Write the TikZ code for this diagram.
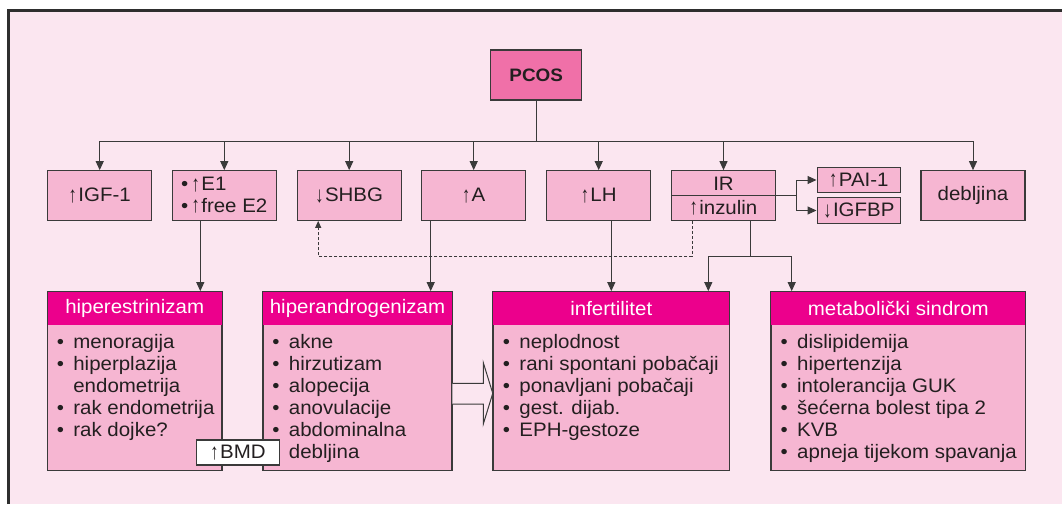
\documentclass[tikz,border=0pt]{standalone}
\usepackage{graphicx}
\usepackage{fontspec}
\setmainfont{Liberation Sans}[FakeStretch=1.05]
\usetikzlibrary{arrows.meta}

\definecolor{pagebg}{HTML}{FBE6F0}
\definecolor{boxfill}{HTML}{F6B6D2}
\definecolor{hdrfill}{HTML}{EC008C}
\definecolor{rootfill}{HTML}{F070A8}
\definecolor{ink}{HTML}{231F20}
\definecolor{edgecol}{HTML}{3A3A3A}

% bullet with fixed hanging indent for list lines
\newcommand\itemdot{\makebox[16.5pt][l]{•}}
\newcommand\itemgap{\hspace*{16.5pt}}
% slender up/down arrows
\newcommand\upar{\raisebox{-0.3pt}{\scalebox{0.8}[1.15]{↑}}\hspace{1.5pt}}
\newcommand\dnar{\raisebox{-1.5pt}{\scalebox{0.8}[1.15]{↓}}\hspace{1.5pt}}

\tikzset{
  txt/.style={font=\fontsize{19.5}{22}\selectfont, text=ink},
  box/.style={txt, draw=edgecol, line width=1.1pt, fill=boxfill, inner sep=0pt},
  smallbox/.style={box, minimum width=104pt, minimum height=49.6pt},
  tinybox/.style={box, minimum width=83.7pt, minimum height=25.2pt},
  bigbox/.style={box, minimum height=178.6pt},
  hdrtext/.style={font=\fontsize{19.5}{22}\selectfont, text=white, inner sep=0pt},
  listtext/.style={txt, align=left, anchor=north west, inner sep=0pt},
  conn/.style={draw=edgecol, line width=1pt},
  arr/.style={conn, -{Triangle[length=9pt,width=8pt]}},
  dasharr/.style={draw=edgecol, line width=0.9pt, dash pattern=on 3pt off 2pt,
                  -{Triangle[length=7pt,width=6pt]}},
}

\begin{document}
\begin{tikzpicture}[x=1pt,y=-1pt]
  \useasboundingbox (0,0) rectangle (1062,504);
  \fill[white] (0,0) rectangle (1062,504);
  \fill[pagebg] (8.5,10.7) rectangle (1062,504);
  \draw[edgecol!80!black, line width=2.5pt] (8.5,504) -- (8.5,10.7) -- (1062,10.7);

  % root
  \node[box, fill=rootfill, minimum width=91pt, minimum height=50pt,
        font=\fontsize{18}{20}\selectfont\bfseries] (pcos) at (536.2,75) {PCOS};

  % first row
  \node[smallbox] (igf)  at (99.7,195.5)  {\upar IGF-1};
  \node[smallbox, align=left, font=\fontsize{19.5}{21.5}\selectfont] (e1) at (224.3,195.5)
    {•\,\upar E1\\•\,\upar free E2};
  \node[smallbox] (shbg) at (349.2,195.5) {\dnar SHBG};
  \node[smallbox] (andr) at (473.7,195.5) {\upar A};
  \node[smallbox] (lh)   at (598.7,195.5) {\upar LH};
  \node[smallbox] (ir)   at (723.5,195.5) {};
  \draw[edgecol, line width=1.1pt] (ir.west) -- (ir.east);
  \node[txt, inner sep=0pt] (irtop) at (723.5,183.5) {IR};
  \node[txt, inner sep=0pt] (irbot) at (723.5,208) {\upar inzulin};
  \node[smallbox] (debl) at (973,195.5) {debljina};
  \node[tinybox] (pai)   at (858.9,180)   {\upar PAI-1};
  \node[tinybox] (igfbp) at (858.9,210.5) {\dnar IGFBP};

  % fan-out from the root
  \coordinate (bus) at (0,141);
  \draw[conn] (pcos.south) -- (pcos.south |- bus);
  \draw[conn] (bus -| igf) -- (bus -| debl);
  \foreach \n in {igf,e1,shbg,andr,lh,ir,debl}
    \draw[arr] (bus -| \n) -- (\n.north);

  % IR side branches
  \draw[conn] (ir.east) -- ++(20.3,0) coordinate (irj);
  \draw[arr] (irj) |- (pai.west);
  \draw[arr] (irj) |- (igfbp.west);

  % second row
  \node[bigbox, minimum width=174pt]   (hes) at (134.7,381) {};
  \node[bigbox, minimum width=188.4pt] (han) at (357.5,381) {};
  \node[bigbox, minimum width=236pt]   (inf) at (611.3,381) {};
  \node[bigbox, minimum width=254pt]   (met) at (898.3,381) {};
  \foreach \n in {hes,han,inf,met}{
    \fill[hdrfill] (\n.north west) rectangle ([yshift=-34.3pt]\n.north east);
    \draw[edgecol, line width=1.1pt] (\n.north west) rectangle (\n.south east);
  }
  \node[hdrtext] (hesh) at ([yshift=-17.2pt]hes.north) {hiperestrinizam};
  \node[hdrtext] (hanh) at ([yshift=-17.2pt]han.north) {hiperandrogenizam};
  \node[hdrtext] (infh) at ([yshift=-17.2pt]inf.north) {infertilitet};
  \node[hdrtext] (meth) at ([yshift=-17.2pt]met.north) {metabolički sindrom};

  \node[listtext] (hesl) at ([xshift=9.5pt,yshift=-41.9pt]hes.north west)
    {\strut\itemdot menoragija\\ \itemdot hiperplazija\\ \itemgap endometrija\\
     \itemdot rak endometrija\\ \itemdot rak dojke?};
  \node[listtext] (hanl) at ([xshift=9.5pt,yshift=-41.9pt]han.north west)
    {\strut\itemdot akne\\ \itemdot hirzutizam\\ \itemdot alopecija\\
     \itemdot anovulacije\\ \itemdot abdominalna\\ \itemgap debljina};
  \node[listtext] (infl) at ([xshift=10pt,yshift=-41.9pt]inf.north west)
    {\strut\itemdot neplodnost\\ \itemdot rani spontani pobačaji\\
     \itemdot ponavljani pobačaji\\ \itemdot gest. dijab.\\ \itemdot EPH-gestoze};
  \node[listtext] (metl) at ([xshift=9.7pt,yshift=-41.9pt]met.north west)
    {\strut\itemdot dislipidemija\\ \itemdot hipertenzija\\ \itemdot intolerancija GUK\\
     \itemdot šećerna bolest tipa 2\\ \itemdot KVB\\ \itemdot apneja tijekom spavanja};

  \node[box, fill=white, minimum width=82.6pt, minimum height=25pt] (bmd) at (238,452.5) {\upar BMD};

  % links to the second row
  \draw[arr] ([xshift=-24pt]e1.south) -- ([xshift=-24pt]e1.south |- hes.north);
  \draw[arr] ([xshift=-43pt]andr.south) -- ([xshift=-43pt]andr.south |- han.north);
  \draw[arr] (inf.north |- lh.south) -- (inf.north);
  \draw[conn] ([xshift=26.8pt]ir.south) -- ++(0,35.4) coordinate (irb);
  \draw[arr] (irb) -| ([xshift=97pt]inf.north);
  \draw[arr] (irb) -| ([xshift=-106.6pt]met.north);
  \draw[dasharr] ([xshift=-31.5pt]ir.south) -- ++(0,35.4) -| ([xshift=-31pt]shbg.south);

  % hollow block arrow between the two middle boxes
  \fill[pagebg] (han.east |- 0,383.3) -- (483.3,383.3) -- (483.3,362.7)
    -- (inf.west |- 0,393.3) -- (483.3,424) -- (483.3,404) -- (han.east |- 0,404) -- cycle;
  \draw[edgecol, line width=1pt] (han.east |- 0,383.3) -- (483.3,383.3) -- (483.3,362.7)
    -- (inf.west |- 0,393.3) -- (483.3,424) -- (483.3,404) -- (han.east |- 0,404);
\end{tikzpicture}
\end{document}
